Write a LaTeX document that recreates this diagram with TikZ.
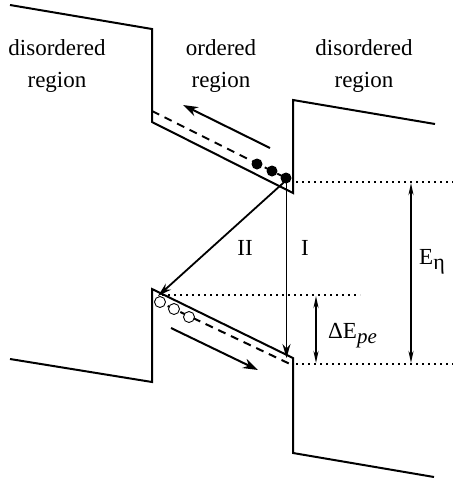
\documentclass[tikz,border=0pt]{standalone}
\usepackage{fontspec}
\setmainfont{Liberation Serif}
\usetikzlibrary{arrows.meta}
\begin{document}
\begin{tikzpicture}[x=1pt,y=-1pt,
  band/.style={line width=2pt, line join=miter},
  dashband/.style={line width=2pt, dash pattern=on 8pt off 6pt},
  flow/.style={line width=2pt, -{Stealth[length=15pt,width=10pt]}},
  trans/.style={line width=1.8pt, -{Stealth[length=14pt,width=8pt]}},
  dim/.style={line width=1.8pt, {Stealth[length=12pt,width=5pt]}-{Stealth[length=12pt,width=5pt]}},
  dots/.style={line width=1.6pt, dash pattern=on 1.6pt off 4.4pt},
  lbl/.style={font=\fontsize{23}{32}\selectfont, align=center, inner sep=0pt},
  elec/.style={circle, fill=black, inner sep=0pt, minimum size=11pt},
  hole/.style={circle, draw=black, fill=white, line width=0.9pt, inner sep=0pt, minimum size=11pt}]
\useasboundingbox (0,0) rectangle (453,483);
% conduction band
\coordinate (a1) at (10,5);
\coordinate (a2) at (152,29);
\coordinate (a3) at (152,122);
\coordinate (a4) at (293,193);
\coordinate (a5) at (293,100);
\coordinate (a6) at (435,124);
\draw[band] (a1) -- (a2) -- (a3) -- (a4) -- (a5) -- (a6);
% valence band
\coordinate (b1) at (10,359);
\coordinate (b2) at (152,382);
\coordinate (b3) at (152,289);
\coordinate (b4) at (293,358);
\coordinate (b5) at (293,453);
\coordinate (b6) at (434,477);
\draw[band] (b1) -- (b2) -- (b3) -- (b4) -- (b5) -- (b6);
% dashed levels
\coordinate (ud1) at (152,111);
\coordinate (ud2) at (286,178);
\draw[dashband] (ud1) -- (ud2);
\coordinate (ld1) at (155,300);
\coordinate (ld2) at (290,364);
\draw[dashband] (ld1) -- (ld2);
% dotted reference lines
\coordinate (t1) at (296,182);
\coordinate (t2) at (453,182);
\draw[dots] (t1) -- (t2);
\coordinate (m1) at (162,295);
\coordinate (m2) at (360,295);
\draw[dots] (m1) -- (m2);
\coordinate (w1) at (296,364);
\coordinate (w2) at (453,364);
\draw[dots] (w1) -- (w2);
% electrons and holes
\node[elec] (e1) at (257,164) {};
\node[elec] (e2) at (272,171) {};
\node[elec] (e3) at (286,178) {};
\node[hole] (h1) at (160,302) {};
\node[hole] (h2) at (174,309) {};
\node[hole] (h3) at (189,317) {};
% drift arrows
\coordinate (f1) at (270,148);
\coordinate (f2) at (183,105);
\draw[flow] (f1) -- (f2);
\coordinate (g1) at (171,328);
\coordinate (g2) at (258,370);
\draw[flow] (g1) -- (g2);
% transitions
\coordinate (s) at (286.5,180);
\coordinate (IIend) at (158,296);
\coordinate (Iend) at (286.5,358);
\draw[trans] (s) -- (IIend);
\draw[trans] (s) -- (Iend);
% dimension arrows
\coordinate (d1) at (411,183);
\coordinate (d2) at (411,363);
\draw[dim] (d1) -- (d2);
\coordinate (p1) at (316,296);
\coordinate (p2) at (316,363);
\draw[dim] (p1) -- (p2);
% labels
\node[lbl] (L1) at (57,66) {disordered\\region};
\node[lbl] (L2) at (221,66) {ordered\\region};
\node[lbl] (L3) at (364,66) {disordered\\region};
\node[lbl] (II) at (245,248) {II};
\node[lbl] (I) at (305,248) {I};
\node[lbl, anchor=west] (Eeta) at (419,262) {E\raisebox{-5pt}{\fontsize{22}{24}\selectfont η}};
\node[lbl, anchor=west] (dE) at (328,336) {ΔE\raisebox{-5pt}{\fontsize{21}{24}\selectfont\itshape pe}};
\end{tikzpicture}
\end{document}
